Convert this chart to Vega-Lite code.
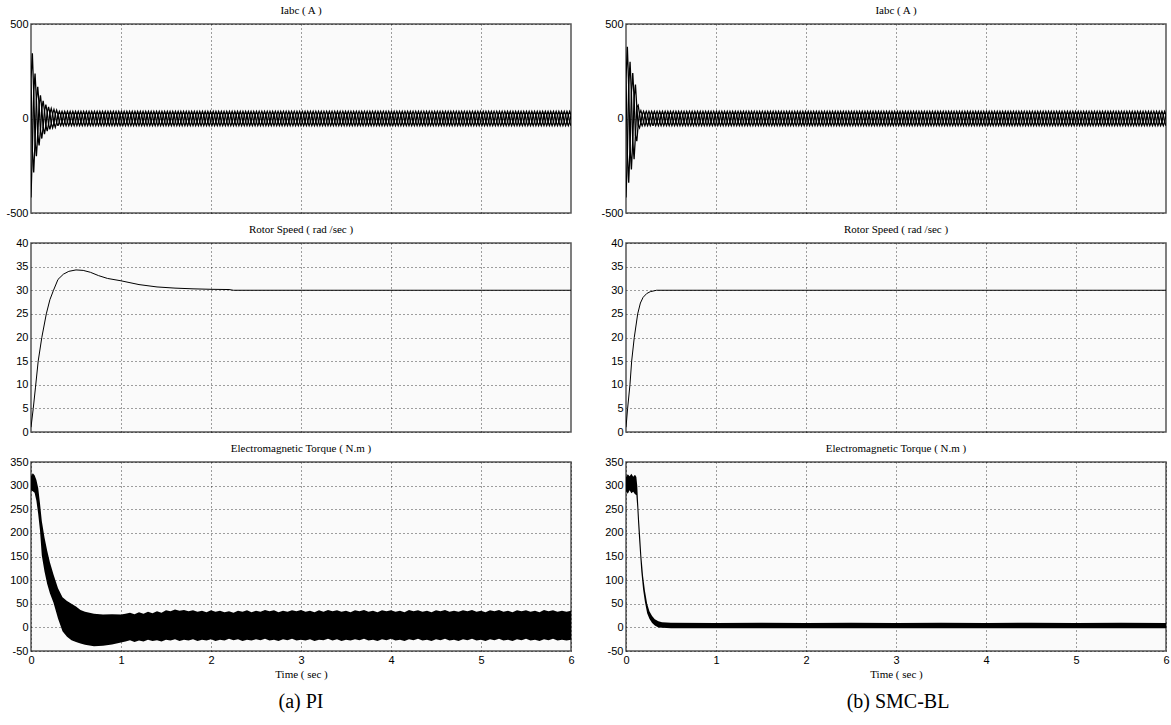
{
"$schema":"https://vega.github.io/schema/vega-lite/v6.json",
"background":"#ffffff",
"padding":{"left":5,"top":4,"right":2,"bottom":5},
"config":{
"font":"Liberation Sans",
"view":{"stroke":"#555555","strokeWidth":1.5,"fill":"#fafafa"},
"axis":{"domain":false,"ticks":false,"grid":true,"gridColor":"#000000","gridDash":[1,3],"gridOpacity":0.75,"gridWidth":1,"labelFont":"Liberation Sans","labelFontSize":11,"labelColor":"#000000","labelPadding":3,"labelFlush":false,"labelOverlap":false,"labelExpr":"''+datum.value","titleFont":"Liberation Serif","titleFontSize":11,"titleFontWeight":"normal","titleColor":"#000000","titlePadding":3},
"title":{"font":"Liberation Serif","fontSize":11,"fontWeight":"normal","color":"#000000","offset":2,"anchor":"middle"},
"line":{"color":"#000000"},
"area":{"color":"#000000"}
},
"datasets":{
"iss":[
{"t":300,"a":19,"b":19,"c":-38},{"t":315,"a":-19,"b":38,"c":-19},{"t":330,"a":-38,"b":19,"c":19},{"t":345,"a":-19,"b":-19,"c":38},{"t":360,"a":19,"b":-38,"c":19},{"t":375,"a":38,"b":-19,"c":-19},
{"t":390,"a":19,"b":19,"c":-38},{"t":405,"a":-19,"b":38,"c":-19},{"t":420,"a":-38,"b":19,"c":19},{"t":435,"a":-19,"b":-19,"c":38},{"t":450,"a":19,"b":-38,"c":19},{"t":465,"a":38,"b":-19,"c":-19},
{"t":480,"a":19,"b":19,"c":-38},{"t":495,"a":-19,"b":38,"c":-19},{"t":510,"a":-38,"b":19,"c":19},{"t":525,"a":-19,"b":-19,"c":38},{"t":540,"a":19,"b":-38,"c":19},{"t":555,"a":38,"b":-19,"c":-19},
{"t":570,"a":19,"b":19,"c":-38},{"t":585,"a":-19,"b":38,"c":-19},{"t":600,"a":-38,"b":19,"c":19},{"t":615,"a":-19,"b":-19,"c":38},{"t":630,"a":19,"b":-38,"c":19},{"t":645,"a":38,"b":-19,"c":-19},
{"t":660,"a":19,"b":19,"c":-38},{"t":675,"a":-19,"b":38,"c":-19},{"t":690,"a":-38,"b":19,"c":19},{"t":705,"a":-19,"b":-19,"c":38},{"t":720,"a":19,"b":-38,"c":19},{"t":735,"a":38,"b":-19,"c":-19},
{"t":750,"a":19,"b":19,"c":-38},{"t":765,"a":-19,"b":38,"c":-19},{"t":780,"a":-38,"b":19,"c":19},{"t":795,"a":-19,"b":-19,"c":38},{"t":810,"a":19,"b":-38,"c":19},{"t":825,"a":38,"b":-19,"c":-19},
{"t":840,"a":19,"b":19,"c":-38},{"t":855,"a":-19,"b":38,"c":-19},{"t":870,"a":-38,"b":19,"c":19},{"t":885,"a":-19,"b":-19,"c":38},{"t":900,"a":19,"b":-38,"c":19},{"t":915,"a":38,"b":-19,"c":-19},
{"t":930,"a":19,"b":19,"c":-38},{"t":945,"a":-19,"b":38,"c":-19},{"t":960,"a":-38,"b":19,"c":19},{"t":975,"a":-19,"b":-19,"c":38},{"t":990,"a":19,"b":-38,"c":19},{"t":1005,"a":38,"b":-19,"c":-19},
{"t":1020,"a":19,"b":19,"c":-38},{"t":1035,"a":-19,"b":38,"c":-19},{"t":1050,"a":-38,"b":19,"c":19},{"t":1065,"a":-19,"b":-19,"c":38},{"t":1080,"a":19,"b":-38,"c":19},{"t":1095,"a":38,"b":-19,"c":-19},
{"t":1110,"a":19,"b":19,"c":-38},{"t":1125,"a":-19,"b":38,"c":-19},{"t":1140,"a":-38,"b":19,"c":19},{"t":1155,"a":-19,"b":-19,"c":38},{"t":1170,"a":19,"b":-38,"c":19},{"t":1185,"a":38,"b":-19,"c":-19},
{"t":1200,"a":19,"b":19,"c":-38},{"t":1215,"a":-19,"b":38,"c":-19},{"t":1230,"a":-38,"b":19,"c":19},{"t":1245,"a":-19,"b":-19,"c":38},{"t":1260,"a":19,"b":-38,"c":19},{"t":1275,"a":38,"b":-19,"c":-19},
{"t":1290,"a":19,"b":19,"c":-38},{"t":1305,"a":-19,"b":38,"c":-19},{"t":1320,"a":-38,"b":19,"c":19},{"t":1335,"a":-19,"b":-19,"c":38},{"t":1350,"a":19,"b":-38,"c":19},{"t":1365,"a":38,"b":-19,"c":-19},
{"t":1380,"a":19,"b":19,"c":-38},{"t":1395,"a":-19,"b":38,"c":-19},{"t":1410,"a":-38,"b":19,"c":19},{"t":1425,"a":-19,"b":-19,"c":38},{"t":1440,"a":19,"b":-38,"c":19},{"t":1455,"a":38,"b":-19,"c":-19},
{"t":1470,"a":19,"b":19,"c":-38},{"t":1485,"a":-19,"b":38,"c":-19},{"t":1500,"a":-38,"b":19,"c":19},{"t":1515,"a":-19,"b":-19,"c":38},{"t":1530,"a":19,"b":-38,"c":19},{"t":1545,"a":38,"b":-19,"c":-19},
{"t":1560,"a":19,"b":19,"c":-38},{"t":1575,"a":-19,"b":38,"c":-19},{"t":1590,"a":-38,"b":19,"c":19},{"t":1605,"a":-19,"b":-19,"c":38},{"t":1620,"a":19,"b":-38,"c":19},{"t":1635,"a":38,"b":-19,"c":-19},
{"t":1650,"a":19,"b":19,"c":-38},{"t":1665,"a":-19,"b":38,"c":-19},{"t":1680,"a":-38,"b":19,"c":19},{"t":1695,"a":-19,"b":-19,"c":38},{"t":1710,"a":19,"b":-38,"c":19},{"t":1725,"a":38,"b":-19,"c":-19},
{"t":1740,"a":19,"b":19,"c":-38},{"t":1755,"a":-19,"b":38,"c":-19},{"t":1770,"a":-38,"b":19,"c":19},{"t":1785,"a":-19,"b":-19,"c":38},{"t":1800,"a":19,"b":-38,"c":19},{"t":1815,"a":38,"b":-19,"c":-19},
{"t":1830,"a":19,"b":19,"c":-38},{"t":1845,"a":-19,"b":38,"c":-19},{"t":1860,"a":-38,"b":19,"c":19},{"t":1875,"a":-19,"b":-19,"c":38},{"t":1890,"a":19,"b":-38,"c":19},{"t":1905,"a":38,"b":-19,"c":-19},
{"t":1920,"a":19,"b":19,"c":-38},{"t":1935,"a":-19,"b":38,"c":-19},{"t":1950,"a":-38,"b":19,"c":19},{"t":1965,"a":-19,"b":-19,"c":38},{"t":1980,"a":19,"b":-38,"c":19},{"t":1995,"a":38,"b":-19,"c":-19},
{"t":2010,"a":19,"b":19,"c":-38},{"t":2025,"a":-19,"b":38,"c":-19},{"t":2040,"a":-38,"b":19,"c":19},{"t":2055,"a":-19,"b":-19,"c":38},{"t":2070,"a":19,"b":-38,"c":19},{"t":2085,"a":38,"b":-19,"c":-19},
{"t":2100,"a":19,"b":19,"c":-38},{"t":2115,"a":-19,"b":38,"c":-19},{"t":2130,"a":-38,"b":19,"c":19},{"t":2145,"a":-19,"b":-19,"c":38},{"t":2160,"a":19,"b":-38,"c":19},{"t":2175,"a":38,"b":-19,"c":-19},
{"t":2190,"a":19,"b":19,"c":-38},{"t":2205,"a":-19,"b":38,"c":-19},{"t":2220,"a":-38,"b":19,"c":19},{"t":2235,"a":-19,"b":-19,"c":38},{"t":2250,"a":19,"b":-38,"c":19},{"t":2265,"a":38,"b":-19,"c":-19},
{"t":2280,"a":19,"b":19,"c":-38},{"t":2295,"a":-19,"b":38,"c":-19},{"t":2310,"a":-38,"b":19,"c":19},{"t":2325,"a":-19,"b":-19,"c":38},{"t":2340,"a":19,"b":-38,"c":19},{"t":2355,"a":38,"b":-19,"c":-19},
{"t":2370,"a":19,"b":19,"c":-38},{"t":2385,"a":-19,"b":38,"c":-19},{"t":2400,"a":-38,"b":19,"c":19},{"t":2415,"a":-19,"b":-19,"c":38},{"t":2430,"a":19,"b":-38,"c":19},{"t":2445,"a":38,"b":-19,"c":-19},
{"t":2460,"a":19,"b":19,"c":-38},{"t":2475,"a":-19,"b":38,"c":-19},{"t":2490,"a":-38,"b":19,"c":19},{"t":2505,"a":-19,"b":-19,"c":38},{"t":2520,"a":19,"b":-38,"c":19},{"t":2535,"a":38,"b":-19,"c":-19},
{"t":2550,"a":19,"b":19,"c":-38},{"t":2565,"a":-19,"b":38,"c":-19},{"t":2580,"a":-38,"b":19,"c":19},{"t":2595,"a":-19,"b":-19,"c":38},{"t":2610,"a":19,"b":-38,"c":19},{"t":2625,"a":38,"b":-19,"c":-19},
{"t":2640,"a":19,"b":19,"c":-38},{"t":2655,"a":-19,"b":38,"c":-19},{"t":2670,"a":-38,"b":19,"c":19},{"t":2685,"a":-19,"b":-19,"c":38},{"t":2700,"a":19,"b":-38,"c":19},{"t":2715,"a":38,"b":-19,"c":-19},
{"t":2730,"a":19,"b":19,"c":-38},{"t":2745,"a":-19,"b":38,"c":-19},{"t":2760,"a":-38,"b":19,"c":19},{"t":2775,"a":-19,"b":-19,"c":38},{"t":2790,"a":19,"b":-38,"c":19},{"t":2805,"a":38,"b":-19,"c":-19},
{"t":2820,"a":19,"b":19,"c":-38},{"t":2835,"a":-19,"b":38,"c":-19},{"t":2850,"a":-38,"b":19,"c":19},{"t":2865,"a":-19,"b":-19,"c":38},{"t":2880,"a":19,"b":-38,"c":19},{"t":2895,"a":38,"b":-19,"c":-19},
{"t":2910,"a":19,"b":19,"c":-38},{"t":2925,"a":-19,"b":38,"c":-19},{"t":2940,"a":-38,"b":19,"c":19},{"t":2955,"a":-19,"b":-19,"c":38},{"t":2970,"a":19,"b":-38,"c":19},{"t":2985,"a":38,"b":-19,"c":-19},
{"t":3000,"a":19,"b":19,"c":-38},{"t":3015,"a":-19,"b":38,"c":-19},{"t":3030,"a":-38,"b":19,"c":19},{"t":3045,"a":-19,"b":-19,"c":38},{"t":3060,"a":19,"b":-38,"c":19},{"t":3075,"a":38,"b":-19,"c":-19},
{"t":3090,"a":19,"b":19,"c":-38},{"t":3105,"a":-19,"b":38,"c":-19},{"t":3120,"a":-38,"b":19,"c":19},{"t":3135,"a":-19,"b":-19,"c":38},{"t":3150,"a":19,"b":-38,"c":19},{"t":3165,"a":38,"b":-19,"c":-19},
{"t":3180,"a":19,"b":19,"c":-38},{"t":3195,"a":-19,"b":38,"c":-19},{"t":3210,"a":-38,"b":19,"c":19},{"t":3225,"a":-19,"b":-19,"c":38},{"t":3240,"a":19,"b":-38,"c":19},{"t":3255,"a":38,"b":-19,"c":-19},
{"t":3270,"a":19,"b":19,"c":-38},{"t":3285,"a":-19,"b":38,"c":-19},{"t":3300,"a":-38,"b":19,"c":19},{"t":3315,"a":-19,"b":-19,"c":38},{"t":3330,"a":19,"b":-38,"c":19},{"t":3345,"a":38,"b":-19,"c":-19},
{"t":3360,"a":19,"b":19,"c":-38},{"t":3375,"a":-19,"b":38,"c":-19},{"t":3390,"a":-38,"b":19,"c":19},{"t":3405,"a":-19,"b":-19,"c":38},{"t":3420,"a":19,"b":-38,"c":19},{"t":3435,"a":38,"b":-19,"c":-19},
{"t":3450,"a":19,"b":19,"c":-38},{"t":3465,"a":-19,"b":38,"c":-19},{"t":3480,"a":-38,"b":19,"c":19},{"t":3495,"a":-19,"b":-19,"c":38},{"t":3510,"a":19,"b":-38,"c":19},{"t":3525,"a":38,"b":-19,"c":-19},
{"t":3540,"a":19,"b":19,"c":-38},{"t":3555,"a":-19,"b":38,"c":-19},{"t":3570,"a":-38,"b":19,"c":19},{"t":3585,"a":-19,"b":-19,"c":38},{"t":3600,"a":19,"b":-38,"c":19},{"t":3615,"a":38,"b":-19,"c":-19},
{"t":3630,"a":19,"b":19,"c":-38},{"t":3645,"a":-19,"b":38,"c":-19},{"t":3660,"a":-38,"b":19,"c":19},{"t":3675,"a":-19,"b":-19,"c":38},{"t":3690,"a":19,"b":-38,"c":19},{"t":3705,"a":38,"b":-19,"c":-19},
{"t":3720,"a":19,"b":19,"c":-38},{"t":3735,"a":-19,"b":38,"c":-19},{"t":3750,"a":-38,"b":19,"c":19},{"t":3765,"a":-19,"b":-19,"c":38},{"t":3780,"a":19,"b":-38,"c":19},{"t":3795,"a":38,"b":-19,"c":-19},
{"t":3810,"a":19,"b":19,"c":-38},{"t":3825,"a":-19,"b":38,"c":-19},{"t":3840,"a":-38,"b":19,"c":19},{"t":3855,"a":-19,"b":-19,"c":38},{"t":3870,"a":19,"b":-38,"c":19},{"t":3885,"a":38,"b":-19,"c":-19},
{"t":3900,"a":19,"b":19,"c":-38},{"t":3915,"a":-19,"b":38,"c":-19},{"t":3930,"a":-38,"b":19,"c":19},{"t":3945,"a":-19,"b":-19,"c":38},{"t":3960,"a":19,"b":-38,"c":19},{"t":3975,"a":38,"b":-19,"c":-19},
{"t":3990,"a":19,"b":19,"c":-38},{"t":4005,"a":-19,"b":38,"c":-19},{"t":4020,"a":-38,"b":19,"c":19},{"t":4035,"a":-19,"b":-19,"c":38},{"t":4050,"a":19,"b":-38,"c":19},{"t":4065,"a":38,"b":-19,"c":-19},
{"t":4080,"a":19,"b":19,"c":-38},{"t":4095,"a":-19,"b":38,"c":-19},{"t":4110,"a":-38,"b":19,"c":19},{"t":4125,"a":-19,"b":-19,"c":38},{"t":4140,"a":19,"b":-38,"c":19},{"t":4155,"a":38,"b":-19,"c":-19},
{"t":4170,"a":19,"b":19,"c":-38},{"t":4185,"a":-19,"b":38,"c":-19},{"t":4200,"a":-38,"b":19,"c":19},{"t":4215,"a":-19,"b":-19,"c":38},{"t":4230,"a":19,"b":-38,"c":19},{"t":4245,"a":38,"b":-19,"c":-19},
{"t":4260,"a":19,"b":19,"c":-38},{"t":4275,"a":-19,"b":38,"c":-19},{"t":4290,"a":-38,"b":19,"c":19},{"t":4305,"a":-19,"b":-19,"c":38},{"t":4320,"a":19,"b":-38,"c":19},{"t":4335,"a":38,"b":-19,"c":-19},
{"t":4350,"a":19,"b":19,"c":-38},{"t":4365,"a":-19,"b":38,"c":-19},{"t":4380,"a":-38,"b":19,"c":19},{"t":4395,"a":-19,"b":-19,"c":38},{"t":4410,"a":19,"b":-38,"c":19},{"t":4425,"a":38,"b":-19,"c":-19},
{"t":4440,"a":19,"b":19,"c":-38},{"t":4455,"a":-19,"b":38,"c":-19},{"t":4470,"a":-38,"b":19,"c":19},{"t":4485,"a":-19,"b":-19,"c":38},{"t":4500,"a":19,"b":-38,"c":19},{"t":4515,"a":38,"b":-19,"c":-19},
{"t":4530,"a":19,"b":19,"c":-38},{"t":4545,"a":-19,"b":38,"c":-19},{"t":4560,"a":-38,"b":19,"c":19},{"t":4575,"a":-19,"b":-19,"c":38},{"t":4590,"a":19,"b":-38,"c":19},{"t":4605,"a":38,"b":-19,"c":-19},
{"t":4620,"a":19,"b":19,"c":-38},{"t":4635,"a":-19,"b":38,"c":-19},{"t":4650,"a":-38,"b":19,"c":19},{"t":4665,"a":-19,"b":-19,"c":38},{"t":4680,"a":19,"b":-38,"c":19},{"t":4695,"a":38,"b":-19,"c":-19},
{"t":4710,"a":19,"b":19,"c":-38},{"t":4725,"a":-19,"b":38,"c":-19},{"t":4740,"a":-38,"b":19,"c":19},{"t":4755,"a":-19,"b":-19,"c":38},{"t":4770,"a":19,"b":-38,"c":19},{"t":4785,"a":38,"b":-19,"c":-19},
{"t":4800,"a":19,"b":19,"c":-38},{"t":4815,"a":-19,"b":38,"c":-19},{"t":4830,"a":-38,"b":19,"c":19},{"t":4845,"a":-19,"b":-19,"c":38},{"t":4860,"a":19,"b":-38,"c":19},{"t":4875,"a":38,"b":-19,"c":-19},
{"t":4890,"a":19,"b":19,"c":-38},{"t":4905,"a":-19,"b":38,"c":-19},{"t":4920,"a":-38,"b":19,"c":19},{"t":4935,"a":-19,"b":-19,"c":38},{"t":4950,"a":19,"b":-38,"c":19},{"t":4965,"a":38,"b":-19,"c":-19},
{"t":4980,"a":19,"b":19,"c":-38},{"t":4995,"a":-19,"b":38,"c":-19},{"t":5010,"a":-38,"b":19,"c":19},{"t":5025,"a":-19,"b":-19,"c":38},{"t":5040,"a":19,"b":-38,"c":19},{"t":5055,"a":38,"b":-19,"c":-19},
{"t":5070,"a":19,"b":19,"c":-38},{"t":5085,"a":-19,"b":38,"c":-19},{"t":5100,"a":-38,"b":19,"c":19},{"t":5115,"a":-19,"b":-19,"c":38},{"t":5130,"a":19,"b":-38,"c":19},{"t":5145,"a":38,"b":-19,"c":-19},
{"t":5160,"a":19,"b":19,"c":-38},{"t":5175,"a":-19,"b":38,"c":-19},{"t":5190,"a":-38,"b":19,"c":19},{"t":5205,"a":-19,"b":-19,"c":38},{"t":5220,"a":19,"b":-38,"c":19},{"t":5235,"a":38,"b":-19,"c":-19},
{"t":5250,"a":19,"b":19,"c":-38},{"t":5265,"a":-19,"b":38,"c":-19},{"t":5280,"a":-38,"b":19,"c":19},{"t":5295,"a":-19,"b":-19,"c":38},{"t":5310,"a":19,"b":-38,"c":19},{"t":5325,"a":38,"b":-19,"c":-19},
{"t":5340,"a":19,"b":19,"c":-38},{"t":5355,"a":-19,"b":38,"c":-19},{"t":5370,"a":-38,"b":19,"c":19},{"t":5385,"a":-19,"b":-19,"c":38},{"t":5400,"a":19,"b":-38,"c":19},{"t":5415,"a":38,"b":-19,"c":-19},
{"t":5430,"a":19,"b":19,"c":-38},{"t":5445,"a":-19,"b":38,"c":-19},{"t":5460,"a":-38,"b":19,"c":19},{"t":5475,"a":-19,"b":-19,"c":38},{"t":5490,"a":19,"b":-38,"c":19},{"t":5505,"a":38,"b":-19,"c":-19},
{"t":5520,"a":19,"b":19,"c":-38},{"t":5535,"a":-19,"b":38,"c":-19},{"t":5550,"a":-38,"b":19,"c":19},{"t":5565,"a":-19,"b":-19,"c":38},{"t":5580,"a":19,"b":-38,"c":19},{"t":5595,"a":38,"b":-19,"c":-19},
{"t":5610,"a":19,"b":19,"c":-38},{"t":5625,"a":-19,"b":38,"c":-19},{"t":5640,"a":-38,"b":19,"c":19},{"t":5655,"a":-19,"b":-19,"c":38},{"t":5670,"a":19,"b":-38,"c":19},{"t":5685,"a":38,"b":-19,"c":-19},
{"t":5700,"a":19,"b":19,"c":-38},{"t":5715,"a":-19,"b":38,"c":-19},{"t":5730,"a":-38,"b":19,"c":19},{"t":5745,"a":-19,"b":-19,"c":38},{"t":5760,"a":19,"b":-38,"c":19},{"t":5775,"a":38,"b":-19,"c":-19},
{"t":5790,"a":19,"b":19,"c":-38},{"t":5805,"a":-19,"b":38,"c":-19},{"t":5820,"a":-38,"b":19,"c":19},{"t":5835,"a":-19,"b":-19,"c":38},{"t":5850,"a":19,"b":-38,"c":19},{"t":5865,"a":38,"b":-19,"c":-19},
{"t":5880,"a":19,"b":19,"c":-38},{"t":5895,"a":-19,"b":38,"c":-19},{"t":5910,"a":-38,"b":19,"c":19},{"t":5925,"a":-19,"b":-19,"c":38},{"t":5940,"a":19,"b":-38,"c":19},{"t":5955,"a":38,"b":-19,"c":-19},
{"t":5970,"a":19,"b":19,"c":-38},{"t":5985,"a":-19,"b":38,"c":-19},{"t":6000,"a":-38,"b":19,"c":19}
],
"ipi":[
{"t":0,"a":209,"b":-418,"c":209},{"t":15,"a":345,"b":-172,"c":-172},{"t":30,"a":142,"b":142,"c":-285},{"t":45,"a":-119,"b":238,"c":-119},{"t":60,"a":-199,"b":100,"c":100},{"t":75,"a":-84,"b":-84,"c":168},
{"t":90,"a":72,"b":-143,"c":72},{"t":105,"a":123,"b":-62,"c":-62},{"t":120,"a":53,"b":53,"c":-106},{"t":135,"a":-46,"b":93,"c":-46},{"t":150,"a":-83,"b":41,"c":41},{"t":165,"a":-37,"b":-37,"c":74},
{"t":180,"a":33,"b":-67,"c":33},{"t":195,"a":61,"b":-31,"c":-31},{"t":210,"a":28,"b":28,"c":-57},{"t":225,"a":-26,"b":53,"c":-26},{"t":240,"a":-50,"b":25,"c":25},{"t":255,"a":-24,"b":-24,"c":48},
{"t":270,"a":23,"b":-46,"c":23},{"t":285,"a":44,"b":-22,"c":-22},{"t":300,"a":19,"b":19,"c":-38}
],
"ismc":[
{"t":0,"a":209,"b":-418,"c":209},{"t":15,"a":380,"b":-190,"c":-190},{"t":30,"a":170,"b":170,"c":-340},{"t":45,"a":-150,"b":300,"c":-150},{"t":60,"a":-270,"b":135,"c":135},{"t":75,"a":-120,"b":-120,"c":240},
{"t":90,"a":108,"b":-215,"c":108},{"t":105,"a":180,"b":-90,"c":-90},{"t":120,"a":60,"b":60,"c":-120},{"t":135,"a":-35,"b":70,"c":-35},{"t":150,"a":-50,"b":25,"c":25},{"t":165,"a":-21,"b":-21,"c":42},
{"t":180,"a":19,"b":-38,"c":19},{"t":195,"a":38,"b":-19,"c":-19},{"t":210,"a":19,"b":19,"c":-38},{"t":225,"a":-19,"b":38,"c":-19},{"t":240,"a":-38,"b":19,"c":19},{"t":255,"a":-19,"b":-19,"c":38},
{"t":270,"a":19,"b":-38,"c":19},{"t":285,"a":38,"b":-19,"c":-19},{"t":300,"a":19,"b":19,"c":-38}
],
"wpi":[
{"t":0,"w":1},{"t":0.025,"w":5},{"t":0.05,"w":9.5},{"t":0.08,"w":15},{"t":0.12,"w":20},{"t":0.17,"w":25},{"t":0.21,"w":28},{"t":0.25,"w":30},{"t":0.3,"w":32.3},{"t":0.36,"w":33.4},{"t":0.42,"w":34},{"t":0.5,"w":34.3},{"t":0.58,"w":34.2},{"t":0.66,"w":33.8},{"t":0.75,"w":33.1},{"t":0.85,"w":32.5},{"t":1.0,"w":32},{"t":1.2,"w":31.2},{"t":1.4,"w":30.7},{"t":1.6,"w":30.45},{"t":1.8,"w":30.3},{"t":2.0,"w":30.2},{"t":2.2,"w":30.15},{"t":2.25,"w":30},{"t":6,"w":30}
],
"wsmc":[
{"t":0,"w":1},{"t":0.018,"w":5},{"t":0.044,"w":10},{"t":0.063,"w":15},{"t":0.092,"w":20},{"t":0.13,"w":25},{"t":0.16,"w":27.3},{"t":0.19,"w":28.5},{"t":0.23,"w":29.3},{"t":0.27,"w":29.7},{"t":0.34,"w":30},{"t":6,"w":30}
],
"tpi":[
{"t":0,"lo":290,"hi":320},{"t":0.02,"lo":288,"hi":326},{"t":0.04,"lo":285,"hi":322},{"t":0.06,"lo":268,"hi":312},{"t":0.08,"lo":240,"hi":295},{"t":0.1,"lo":205,"hi":262},{"t":0.12,"lo":152,"hi":225},{"t":0.15,"lo":118,"hi":190},{"t":0.18,"lo":92,"hi":162},{"t":0.21,"lo":72,"hi":138},{"t":0.25,"lo":52,"hi":112},{"t":0.3,"lo":19,"hi":83},{"t":0.35,"lo":-8,"hi":64},{"t":0.4,"lo":-20,"hi":56},{"t":0.45,"lo":-27,"hi":50},{"t":0.5,"lo":-31,"hi":44},{"t":0.55,"lo":-34,"hi":37},{"t":0.6,"lo":-37,"hi":33},{"t":0.7,"lo":-40,"hi":29},{"t":0.8,"lo":-39,"hi":27},{"t":0.9,"lo":-36,"hi":28},{"t":1.0,"lo":-32,"hi":27},
{"t":1.05,"lo":-30,"hi":29},{"t":1.1,"lo":-27,"hi":31},{"t":1.15,"lo":-31,"hi":28},{"t":1.2,"lo":-28,"hi":32},{"t":1.25,"lo":-30,"hi":29},{"t":1.3,"lo":-26,"hi":33},{"t":1.35,"lo":-29,"hi":30},{"t":1.4,"lo":-27,"hi":34},{"t":1.45,"lo":-30,"hi":31},{"t":1.5,"lo":-26,"hi":36},
{"t":1.55,"lo":-28,"hi":34},{"t":1.6,"lo":-25,"hi":38},{"t":1.65,"lo":-29,"hi":35},{"t":1.7,"lo":-26,"hi":37},{"t":1.75,"lo":-28,"hi":34},{"t":1.8,"lo":-25,"hi":36},{"t":1.85,"lo":-29,"hi":33},{"t":1.9,"lo":-26,"hi":35},{"t":1.95,"lo":-28,"hi":32},{"t":2.0,"lo":-25,"hi":36},
{"t":2.05,"lo":-29,"hi":33},{"t":2.1,"lo":-26,"hi":35},{"t":2.15,"lo":-28,"hi":32},{"t":2.2,"lo":-24,"hi":34},{"t":2.25,"lo":-27,"hi":31},{"t":2.3,"lo":-25,"hi":35},{"t":2.35,"lo":-29,"hi":33},{"t":2.4,"lo":-26,"hi":36},{"t":2.45,"lo":-28,"hi":32},{"t":2.5,"lo":-25,"hi":35},
{"t":2.55,"lo":-27,"hi":33},{"t":2.6,"lo":-24,"hi":37},{"t":2.65,"lo":-28,"hi":34},{"t":2.7,"lo":-26,"hi":36},{"t":2.75,"lo":-29,"hi":32},{"t":2.8,"lo":-25,"hi":35},{"t":2.85,"lo":-27,"hi":33},{"t":2.9,"lo":-24,"hi":36},{"t":2.95,"lo":-28,"hi":34},{"t":3.0,"lo":-26,"hi":37},
{"t":3.05,"lo":-28,"hi":33},{"t":3.1,"lo":-25,"hi":35},{"t":3.15,"lo":-29,"hi":32},{"t":3.2,"lo":-26,"hi":36},{"t":3.25,"lo":-27,"hi":33},{"t":3.3,"lo":-24,"hi":37},{"t":3.35,"lo":-28,"hi":34},{"t":3.4,"lo":-25,"hi":36},{"t":3.45,"lo":-29,"hi":33},{"t":3.5,"lo":-26,"hi":35},
{"t":3.55,"lo":-28,"hi":32},{"t":3.6,"lo":-25,"hi":36},{"t":3.65,"lo":-27,"hi":34},{"t":3.7,"lo":-24,"hi":37},{"t":3.75,"lo":-28,"hi":33},{"t":3.8,"lo":-26,"hi":35},{"t":3.85,"lo":-29,"hi":32},{"t":3.9,"lo":-25,"hi":36},{"t":3.95,"lo":-27,"hi":34},{"t":4.0,"lo":-24,"hi":36},
{"t":4.05,"lo":-28,"hi":33},{"t":4.1,"lo":-26,"hi":35},{"t":4.15,"lo":-29,"hi":32},{"t":4.2,"lo":-25,"hi":37},{"t":4.25,"lo":-27,"hi":34},{"t":4.3,"lo":-24,"hi":36},{"t":4.35,"lo":-28,"hi":33},{"t":4.4,"lo":-26,"hi":35},{"t":4.45,"lo":-29,"hi":32},{"t":4.5,"lo":-25,"hi":36},
{"t":4.55,"lo":-27,"hi":34},{"t":4.6,"lo":-24,"hi":37},{"t":4.65,"lo":-28,"hi":33},{"t":4.7,"lo":-26,"hi":35},{"t":4.75,"lo":-29,"hi":33},{"t":4.8,"lo":-25,"hi":36},{"t":4.85,"lo":-27,"hi":34},{"t":4.9,"lo":-24,"hi":37},{"t":4.95,"lo":-28,"hi":33},{"t":5.0,"lo":-26,"hi":35},
{"t":5.05,"lo":-29,"hi":32},{"t":5.1,"lo":-25,"hi":36},{"t":5.15,"lo":-27,"hi":34},{"t":5.2,"lo":-24,"hi":37},{"t":5.25,"lo":-28,"hi":33},{"t":5.3,"lo":-26,"hi":35},{"t":5.35,"lo":-29,"hi":32},{"t":5.4,"lo":-25,"hi":36},{"t":5.45,"lo":-27,"hi":34},{"t":5.5,"lo":-24,"hi":36},
{"t":5.55,"lo":-28,"hi":33},{"t":5.6,"lo":-26,"hi":35},{"t":5.65,"lo":-29,"hi":32},{"t":5.7,"lo":-25,"hi":37},{"t":5.75,"lo":-27,"hi":34},{"t":5.8,"lo":-24,"hi":36},{"t":5.85,"lo":-28,"hi":33},{"t":5.9,"lo":-26,"hi":35},{"t":5.95,"lo":-28,"hi":33},{"t":6.0,"lo":-26,"hi":35}
],
"tsmc":[
{"t":0,"lo":288,"hi":318},{"t":0.02,"lo":283,"hi":324},{"t":0.04,"lo":290,"hi":320},{"t":0.06,"lo":284,"hi":325},{"t":0.08,"lo":287,"hi":319},{"t":0.1,"lo":282,"hi":323},{"t":0.115,"lo":280,"hi":318},{"t":0.125,"lo":255,"hi":300},{"t":0.135,"lo":220,"hi":262},{"t":0.145,"lo":188,"hi":228},{"t":0.155,"lo":160,"hi":198},{"t":0.17,"lo":118,"hi":152},{"t":0.19,"lo":80,"hi":108},{"t":0.21,"lo":54,"hi":78},{"t":0.235,"lo":30,"hi":50},{"t":0.26,"lo":18,"hi":34},{"t":0.29,"lo":9,"hi":24},{"t":0.32,"lo":4,"hi":17},{"t":0.36,"lo":0,"hi":13},{"t":0.4,"lo":-1,"hi":11},{"t":0.5,"lo":-2,"hi":10},
{"t":1.0,"lo":-2,"hi":9},{"t":1.5,"lo":-2,"hi":10},{"t":2.0,"lo":-2,"hi":9},{"t":2.5,"lo":-2,"hi":10},{"t":3.0,"lo":-2,"hi":9},{"t":3.5,"lo":-2,"hi":10},{"t":4.0,"lo":-2,"hi":9},{"t":4.5,"lo":-2,"hi":10},{"t":5.0,"lo":-2,"hi":9},{"t":5.5,"lo":-2,"hi":10},{"t":6.0,"lo":-2,"hi":9}
]
},
"spacing":25,
"hconcat":[
{
"title":{"text":"(a) PI","orient":"bottom","fontSize":20,"offset":12,"anchor":"middle","dx":11},
"spacing":30,
"bounds":"flush",
"vconcat":[
{"width":540,"height":189,"title":"Iabc ( A )",
"layer":[
{"data":{"name":"ipi"},"transform":[{"fold":["a","b","c"],"as":["ph","I"]}],"mark":{"type":"line","strokeWidth":1.3,"clip":true},
"encoding":{"x":{"field":"t","type":"quantitative","scale":{"domain":[0,6000],"nice":false},"axis":{"values":[1000,2000,3000,4000,5000],"labels":false,"title":null}},
"y":{"field":"I","type":"quantitative","scale":{"domain":[-500,500],"nice":false},"axis":{"values":[-500,0,500],"title":null,"labelPadding":3}},
"detail":{"field":"ph"}}},
{"data":{"name":"iss"},"transform":[{"fold":["a","b","c"],"as":["ph","I"]}],"mark":{"type":"line","strokeWidth":1.3,"clip":true},
"encoding":{"x":{"field":"t","type":"quantitative"},"y":{"field":"I","type":"quantitative"},"detail":{"field":"ph"}}}
]},
{"width":540,"height":189,"title":"Rotor Speed ( rad /sec )",
"data":{"name":"wpi"},"mark":{"type":"line","strokeWidth":1,"clip":true},
"encoding":{"x":{"field":"t","type":"quantitative","scale":{"domain":[0,6],"nice":false},"axis":{"values":[1,2,3,4,5],"labels":false,"title":null}},
"y":{"field":"w","type":"quantitative","scale":{"domain":[0,40],"nice":false},"axis":{"values":[0,5,10,15,20,25,30,35,40],"title":null,"labelPadding":3}}}},
{"width":540,"height":189,"title":"Electromagnetic Torque ( N.m )",
"data":{"name":"tpi"},"mark":{"type":"area","clip":true},
"encoding":{"x":{"field":"t","type":"quantitative","scale":{"domain":[0,6],"nice":false},"axis":{"values":[0,1,2,3,4,5,6],"title":"Time ( sec )"}},
"y":{"field":"lo","type":"quantitative","scale":{"domain":[-50,350],"nice":false},"axis":{"values":[-50,0,50,100,150,200,250,300,350],"title":null,"labelPadding":3}},
"y2":{"field":"hi"}}}
]
},
{
"title":{"text":"(b) SMC-BL","orient":"bottom","fontSize":20,"offset":12,"anchor":"middle","dx":13},
"spacing":30,
"bounds":"flush",
"vconcat":[
{"width":540,"height":189,"title":"Iabc ( A )",
"layer":[
{"data":{"name":"ismc"},"transform":[{"fold":["a","b","c"],"as":["ph","I"]}],"mark":{"type":"line","strokeWidth":1.3,"clip":true},
"encoding":{"x":{"field":"t","type":"quantitative","scale":{"domain":[0,6000],"nice":false},"axis":{"values":[1000,2000,3000,4000,5000],"labels":false,"title":null}},
"y":{"field":"I","type":"quantitative","scale":{"domain":[-500,500],"nice":false},"axis":{"values":[-500,0,500],"title":null,"labelPadding":3}},
"detail":{"field":"ph"}}},
{"data":{"name":"iss"},"transform":[{"fold":["a","b","c"],"as":["ph","I"]}],"mark":{"type":"line","strokeWidth":1.3,"clip":true},
"encoding":{"x":{"field":"t","type":"quantitative"},"y":{"field":"I","type":"quantitative"},"detail":{"field":"ph"}}}
]},
{"width":540,"height":189,"title":"Rotor Speed ( rad /sec )",
"data":{"name":"wsmc"},"mark":{"type":"line","strokeWidth":1,"clip":true},
"encoding":{"x":{"field":"t","type":"quantitative","scale":{"domain":[0,6],"nice":false},"axis":{"values":[1,2,3,4,5],"labels":false,"title":null}},
"y":{"field":"w","type":"quantitative","scale":{"domain":[0,40],"nice":false},"axis":{"values":[0,5,10,15,20,25,30,35,40],"title":null,"labelPadding":3}}}},
{"width":540,"height":189,"title":"Electromagnetic Torque ( N.m )",
"data":{"name":"tsmc"},"mark":{"type":"area","clip":true},
"encoding":{"x":{"field":"t","type":"quantitative","scale":{"domain":[0,6],"nice":false},"axis":{"values":[0,1,2,3,4,5,6],"title":"Time ( sec )"}},
"y":{"field":"lo","type":"quantitative","scale":{"domain":[-50,350],"nice":false},"axis":{"values":[-50,0,50,100,150,200,250,300,350],"title":null,"labelPadding":3}},
"y2":{"field":"hi"}}}
]
}
]
}
